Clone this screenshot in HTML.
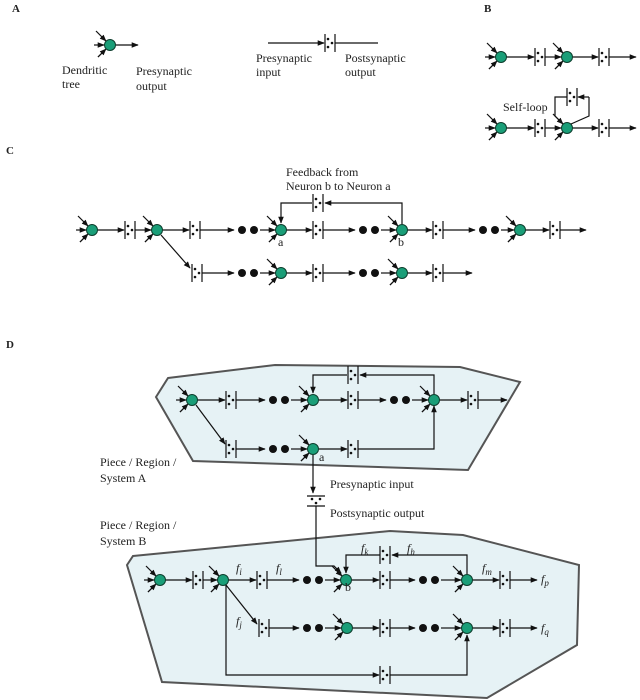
<!DOCTYPE html>
<html><head><meta charset="utf-8"><style>
html,body{margin:0;padding:0;background:#fff}
svg{display:block}
text{font-family:"Liberation Serif",serif;font-size:12px;fill:#222}
.b{font-family:"Liberation Serif",serif;font-weight:bold;font-size:11px}
.f{font-style:italic;font-size:12px}
</style></head><body>
<svg id="s" width="640" height="700" viewBox="0 0 640 700" xmlns="http://www.w3.org/2000/svg">
<defs>
<marker id="ah" viewBox="0 0 10 10" refX="9" refY="5" markerWidth="7" markerHeight="7" orient="auto" markerUnits="userSpaceOnUse"><path d="M0,1 L10,5 L0,9 z" fill="#111"/></marker>
</defs>
<polygon points="168,378 275,365 460,367 520,382 468,470 193,461 156,397" fill="#e6f2f5" stroke="#555" stroke-width="2"/>
<polygon points="133,556 390,531 463,535 579,565 577,645 487,698 162,682 127,565" fill="#e6f2f5" stroke="#555" stroke-width="2"/>
<g id="g" stroke="#111" stroke-width="1.2" fill="none"></g>
<text class="b" x="12" y="12">A</text>
<text class="b" x="484" y="12">B</text>
<text class="b" x="6" y="154">C</text>
<text class="b" x="6" y="348">D</text>
<text x="62" y="74">Dendritic</text><text x="62" y="88">tree</text>
<text x="136" y="75">Presynaptic</text><text x="136" y="90">output</text>
<text x="256" y="62">Presynaptic</text><text x="256" y="76">input</text>
<text x="345" y="62">Postsynaptic</text><text x="345" y="76">output</text>
<text x="503" y="111">Self-loop</text>
<text x="286" y="176">Feedback from</text><text x="286" y="190">Neuron b to Neuron a</text>
<text x="278" y="246" font-size="11">a</text><text x="398" y="246" font-size="11">b</text>
<text x="319" y="461" font-size="11">a</text>
<text x="100" y="466" font-size="11.5">Piece / Region /</text><text x="100" y="482" font-size="11.5">System A</text>
<text x="100" y="529" font-size="11.5">Piece / Region /</text><text x="100" y="545" font-size="11.5">System B</text>
<text x="330" y="488">Presynaptic input</text>
<text x="330" y="517">Postsynaptic output</text>
<text x="345" y="591" font-size="11">b</text>
<text class="f" x="236" y="572">f<tspan font-size="9" dy="3">i</tspan></text>
<text class="f" x="276" y="572">f<tspan font-size="9" dy="3">l</tspan></text>
<text class="f" x="361" y="552">f<tspan font-size="9" dy="3">k</tspan></text>
<text class="f" x="407" y="552">f<tspan font-size="9" dy="3">h</tspan></text>
<text class="f" x="482" y="572">f<tspan font-size="9" dy="3">m</tspan></text>
<text class="f" x="541" y="583">f<tspan font-size="9" dy="3">p</tspan></text>
<text class="f" x="541" y="632">f<tspan font-size="9" dy="3">q</tspan></text>
<text class="f" x="236" y="625">f<tspan font-size="9" dy="3">j</tspan></text>
</svg>
<script>
var g=document.getElementById('g'),NS='http://www.w3.org/2000/svg';
function el(t,a,p){var e=document.createElementNS(NS,t);for(var k in a)e.setAttribute(k,a[k]);(p||g).appendChild(e);return e;}
function A(x1,y1,x2,y2){el('line',{x1:x1,y1:y1,x2:x2,y2:y2,'marker-end':'url(#ah)'});}
function L(x1,y1,x2,y2){el('line',{x1:x1,y1:y1,x2:x2,y2:y2});}
function P(pts,arrow){var a={points:pts};if(arrow)a['marker-end']='url(#ah)';el('polyline',a);}
function N(x,y){A(x-14,y-14,x-4,y-4);A(x-16,y,x-6,y);L(x-12,y+12,x-5,y+5);A(x-12,y+12,x-4,y+4);
 el('circle',{cx:x,cy:y,r:5.5,fill:'#1a9e78',stroke:'#0c3d2c','stroke-width':1});}
function S(x,y){L(x-5,y-9,x-5,y+9);L(x+5,y-9,x+5,y+9);
 [[x-2,y-4],[x+2,y],[x-2,y+4]].forEach(function(p){el('circle',{cx:p[0],cy:p[1],r:1.3,fill:'#111',stroke:'none'});});}
function SV(x,y){L(x-9,y-5,x+9,y-5);L(x-9,y+5,x+9,y+5);
 [[x-4,y-2],[x,y+2],[x+4,y-2]].forEach(function(p){el('circle',{cx:p[0],cy:p[1],r:1.3,fill:'#111',stroke:'none'});});}
function D(x,y){el('circle',{cx:x,cy:y,r:4,fill:'#111',stroke:'none'});el('circle',{cx:x+12,cy:y,r:4,fill:'#111',stroke:'none'});}
function chain(y,it){
 for(var i=0;i<it.length;i++){var t=it[i][0],x=it[i][1];
  if(t=='n')N(x,y);else if(t=='s')S(x,y);else if(t=='d')D(x,y);
  if(i+1<it.length){var u=it[i+1][0],nx=it[i+1][1];
   var sx=t=='n'?x+6:t=='s'?x+5:x+18;
   if(u=='s')A(sx,y,nx-6,y);else if(u=='d')A(sx,y,nx-8,y);else if(u=='n')L(sx,y,nx-16,y);else A(sx,y,nx,y);}
 }}
// A
N(110,45);A(116,45,138,45);
A(268,43,324,43);S(330,43);L(335,43,378,43);
// B
chain(57,[['n',501],['s',540],['n',567],['s',604],['e',636]]);
chain(128,[['n',501],['s',540],['n',567],['s',604],['e',636]]);
P('563,124 555,116 555,97 567,97');S(572,97);A(589,97,578,97);P('589,97 589,116 571,124');
// C
chain(230,[['n',92],['s',130],['n',157],['s',195],['d',242],['n',281],['s',318],['d',363],['n',402],['s',438],['d',483],['n',520],['s',555],['e',586]]);
A(161,235,190,268);
chain(273,[['s',197],['d',242],['n',281],['s',318],['d',363],['n',402],['s',438],['e',472]]);
P('402,224 402,203 325,203',1);S(318,203);P('312,203 281,203 281,223',1);
// D top
chain(400,[['n',192],['s',231],['d',273],['n',313],['s',353],['d',394],['n',434],['s',473],['e',507]]);
A(196,405,225,444);
chain(449,[['s',231],['d',273],['n',313],['s',353]]);
P('358,449 434,449 434,406',1);
P('434,394 434,375 360,375',1);S(353,375);P('347,375 313,375 313,393',1);
A(313,455,313,493);SV(316,501);
P('316,506 316,566 334,566 341,573',1);
// D bottom
chain(580,[['n',160],['s',198],['n',223],['s',262],['d',307],['n',346],['s',385],['d',423],['n',467],['s',505],['e',537]]);
A(226,585,257,624);
chain(628,[['s',264],['d',307],['n',347],['s',385],['d',423],['n',467],['s',505],['e',537]]);
P('467,574 467,555 392,555',1);S(385,555);P('380,555 346,555 346,573',1);
P('226,585 226,675 379,675',1);S(385,675);P('390,675 467,675 467,635',1);
</script>
</body></html>
